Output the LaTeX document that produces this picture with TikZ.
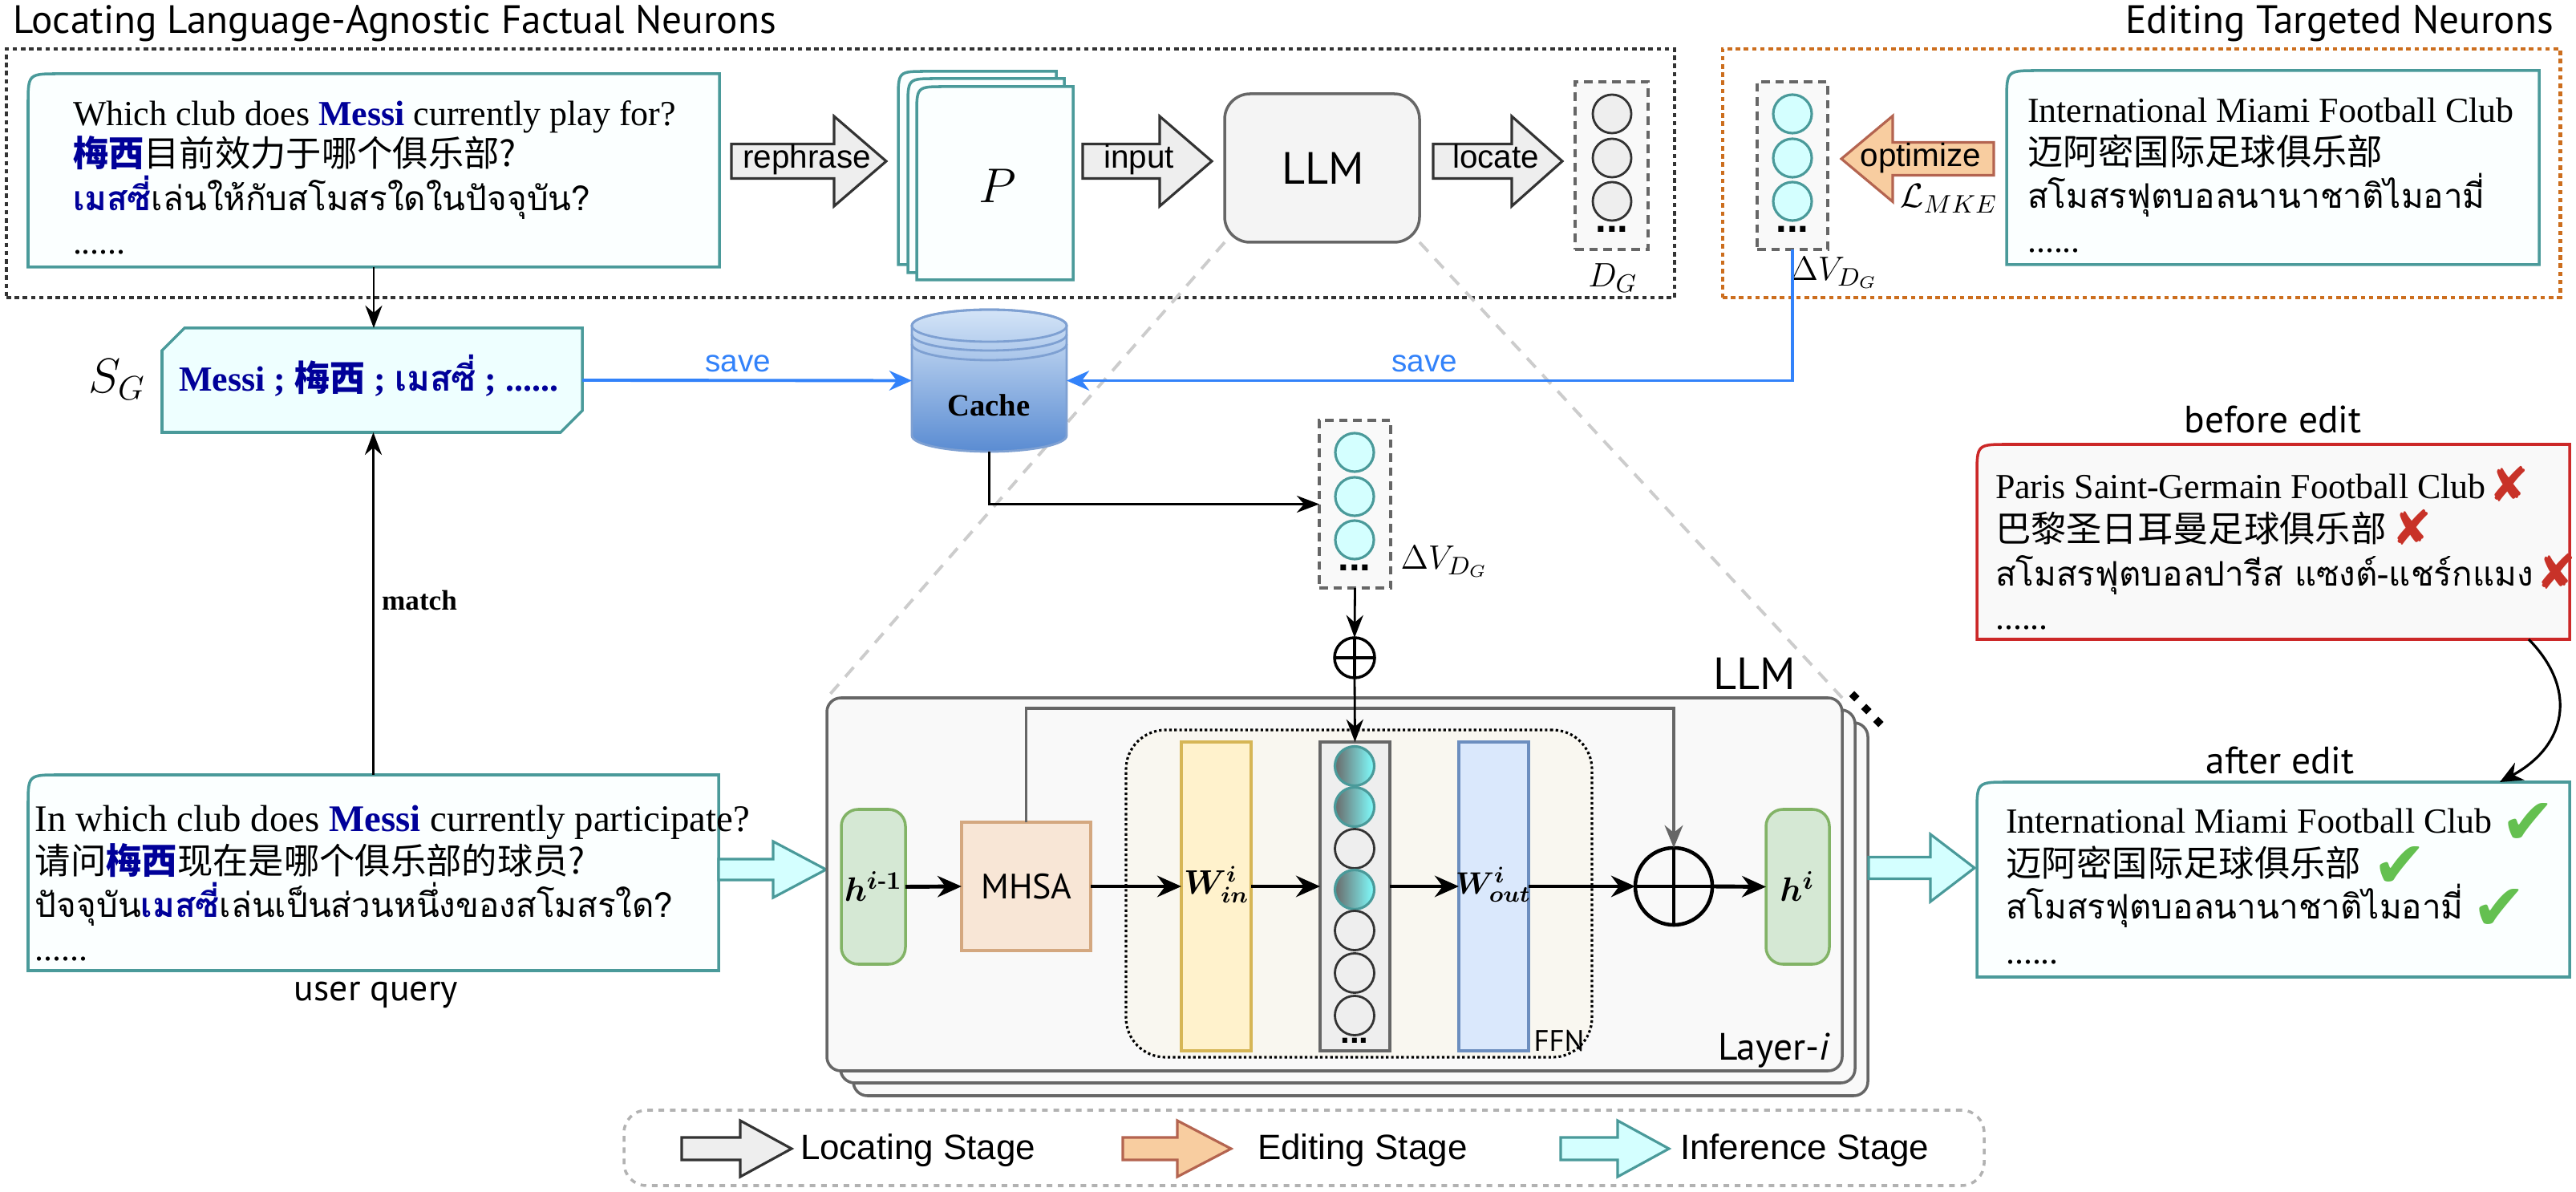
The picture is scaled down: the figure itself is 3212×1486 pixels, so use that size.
\documentclass[tikz,border=0pt]{standalone}
\usepackage{amsmath}
\usepackage{bm}
\usepackage{fontspec}
\setmainfont{Liberation Serif}
\newfontfamily\cjkf{Noto Sans CJK SC}
\newfontfamily\thaif[Script=Thai]{Loma}
\newfontfamily\handf{PT Sans}
\newfontfamily\arialf{Liberation Sans}
\newfontfamily\symf{DejaVu Sans}
\usetikzlibrary{arrows.meta,fit,calc,shapes.geometric}
\newcommand{\fs}[1]{\fontsize{#1}{#1}\selectfont}
\newcommand{\blockarr}[7]{\draw[#1] (#2,{#5-#6}) -- (#3,{#5-#6}) -- (#3,{#5-#7}) -- (#4,#5) -- (#3,{#5+#7}) -- (#3,{#5+#6}) -- (#2,{#5+#6}) -- cycle;}
\newcommand{\tlshape}[3]{\draw[#2] ([yshift=-#3]#1.north west) .. controls (#1.north west) .. ([xshift=#3]#1.north west) -- (#1.north east) -- (#1.south east) -- (#1.south west) -- cycle;}
\definecolor{tealc}{RGB}{74,154,154}
\definecolor{cyanf}{RGB}{212,255,255}
\definecolor{boxfill}{RGB}{251,255,255}
\definecolor{sgfill}{RGB}{238,255,255}
\definecolor{navyq}{RGB}{0,0,153}
\definecolor{orangec}{RGB}{204,110,30}
\definecolor{optfill}{RGB}{248,205,160}
\definecolor{optdraw}{RGB}{180,100,80}
\definecolor{lgray}{RGB}{238,238,238}
\definecolor{darkc}{RGB}{51,51,51}
\definecolor{gray66}{RGB}{102,102,102}
\definecolor{f9}{RGB}{249,249,249}
\definecolor{f5}{RGB}{244,244,244}
\definecolor{redc}{RGB}{204,40,40}
\definecolor{crossc}{RGB}{200,50,40}
\definecolor{checkc}{RGB}{100,192,80}
\definecolor{saveblue}{RGB}{50,130,250}
\definecolor{hfill}{RGB}{213,232,212}
\definecolor{hdraw}{RGB}{130,179,102}
\definecolor{mfill}{RGB}{248,230,214}
\definecolor{mdraw}{RGB}{212,168,128}
\definecolor{winf}{RGB}{255,242,204}
\definecolor{wind}{RGB}{214,182,86}
\definecolor{woutf}{RGB}{218,232,252}
\definecolor{woutd}{RGB}{108,142,191}
\definecolor{ffnc}{RGB}{249,247,240}
\definecolor{cachetop}{RGB}{212,228,247}
\definecolor{cachebot}{RGB}{90,140,210}
\definecolor{cached}{RGB}{126,160,210}
\definecolor{zoomc}{RGB}{204,204,204}
\definecolor{neurdark}{RGB}{105,105,105}
\definecolor{neurcyan}{RGB}{128,255,255}
\begin{document}
\begin{tikzpicture}[x=0.01cm,y=-0.01cm,
 every node/.style={inner sep=0pt,outer sep=0pt},
 region/.style={line width=1.4pt,dash pattern=on 1.6pt off 1.3pt},
 tealb/.style={draw=tealc,line width=1pt,fill=boxfill},
 garr/.style={draw=darkc,fill=lgray,line width=0.9pt},
 oarr/.style={draw=optdraw,fill=optfill,line width=0.9pt},
 carr/.style={draw=tealc,fill=cyanf,line width=0.9pt},
 conn/.style={line width=0.8pt,-{Stealth[length=8pt,width=6pt]}},
 flowarr/.style={line width=1.4pt,-{Stealth[length=8.5pt,width=7.5pt]}},
 savearr/.style={draw=saveblue,line width=1.1pt,-{Stealth[length=8pt,width=7pt]}},
 vecbox/.style={draw=gray66,fill=f9,line width=0.9pt,dash pattern=on 3pt off 2pt},
 gneuron/.style={circle,minimum size=4.8mm,draw=darkc,fill=lgray,line width=0.8pt},
 cneuron/.style={circle,minimum size=4.8mm,draw=tealc,fill=cyanf,line width=0.9pt},
 lneuron/.style={circle,minimum size=4.9mm,draw=darkc,fill=lgray,line width=0.8pt},
 sneuron/.style={circle,minimum size=4.9mm,draw=tealc,left color=neurdark,right color=neurcyan,line width=0.9pt},
 vdots/.style={font=\arialf\bfseries\fs{14}},
 ser/.style={anchor=base west,font=\fs{12.5}},
 cjk/.style={anchor=base west,font=\cjkf\fs{12.6}},
 thai/.style={anchor=base west,font=\thaif\fs{12}},
 hand/.style={font=\handf\fs{14}},
 arl/.style={font=\arialf\fs{11.5}},
 savelbl/.style={font=\arialf\fs{11},text=saveblue},
 legl/.style={anchor=west,font=\arialf\fs{12.5}},
 lay/.style={draw=gray66,fill=f9,line width=1pt,rounded corners=5pt},
 markx/.style={anchor=base west,font=\symf\fs{17},text=crossc,yshift=-1pt},
 markv/.style={anchor=base west,font=\symf\fs{23},text=checkc,yshift=-4pt}
]
\useasboundingbox[fill=white] (0,0) rectangle (3212,1486);

% ---------- region frames and titles
\node[fit={(8,61) (2088,371)},draw=darkc,region] (regL) {};
\node[fit={(2148,61) (3192,371)},draw=orangec,region] (regR) {};
\node[hand,anchor=base west] (t1) at (17,42) {Locating Language-Agnostic Factual Neurons};
\node[hand,anchor=base east] (t2) at (3184,42) {Editing Targeted Neurons};

% ---------- zoom lines
\node[fit={(1527,117) (1770,302)}] (llmpos) {};
\node[fit={(1031,870) (2297,1335)}] (layer1) {};
\draw[zoomc,line width=1.1pt,dash pattern=on 4.5pt off 3.5pt] (llmpos.south west) -- (layer1.north west);
\draw[zoomc,line width=1.1pt,dash pattern=on 4.5pt off 3.5pt] (llmpos.south east) -- (layer1.north east);

% ---------- top-left query box
\node[fit={(35,92) (897,333)}] (qtl) {};
\tlshape{qtl}{tealb}{11pt}
\node[ser] (q1) at (91,157) {Which club does {\bfseries\color{navyq}Messi} currently play for?};
\node[cjk] (q2) at (91,208) {{\bfseries\color{navyq}梅西}目前效力于哪个俱乐部?};
\node[thai] (q3) at (91,263) {{\bfseries\color{navyq}เมสซี่}เล่นให้กับสโมสรใดในปัจจุบัน?};
\node[ser] (q4) at (91,317) {......};

% ---------- rephrase / P / input / LLM / locate
\blockarr{garr}{912}{1040}{1105}{201}{21.5}{56}
\node[arl,anchor=base] (lrep) at (1006,210) {rephrase};
\node[fit={(1120,89) (1317,330)}] (pg3) {};
\node[fit={(1132,98) (1327,340)}] (pg2) {};
\node[fit={(1143,108) (1338,349)}] (pg1) {};
\tlshape{pg3}{tealb}{10pt}
\tlshape{pg2}{tealb}{10pt}
\tlshape{pg1}{tealb}{10pt}
\node[font=\fs{18}] (plbl) at (1244,232) {$P$};
\blockarr{garr}{1350}{1446}{1511}{201}{21.5}{56}
\node[arl,anchor=base] (linp) at (1420,210) {input};
\node[fit={(1527,117) (1770,302)},draw=gray66,fill=f5,line width=1pt,rounded corners=9pt] (llm) {};
\node[font=\handf\fs{16}] (llmt) at (1650,210) {LLM};
\blockarr{garr}{1787}{1885}{1948}{201}{21.5}{56}
\node[arl,anchor=base] (lloc) at (1865,210) {locate};
\node[fit={(1964,102) (2055,311)},vecbox] (dg) {};
\node[gneuron] (dg1) at (2010,142) {};
\node[gneuron] (dg2) at (2010,197) {};
\node[gneuron] (dg3) at (2010,251) {};
\node[vdots] (dgd) at (2010,286) {...};
\node[font=\fs{12.5}] (dgl) at (2011,347) {$D_G$};

% ---------- editing region
\node[fit={(2191,102) (2279,311)},vecbox] (dvt) {};
\node[cneuron] (dvt1) at (2235,142) {};
\node[cneuron] (dvt2) at (2235,197) {};
\node[cneuron] (dvt3) at (2235,251) {};
\node[vdots] (dvtd) at (2235,286) {...};
\node[font=\fs{12.5}] (dvtl) at (2287,340) {$\Delta V_{D_G}$};
\blockarr{oarr}{2486}{2360}{2296}{198}{20.5}{53.5}
\node[arl,anchor=base] (lopt) at (2395,208) {optimize};
\node[font=\fs{13}] (lmke) at (2430,248) {$\mathcal{L}_{MKE}$};
\node[fit={(2502,88) (3166,330)}] (tgt) {};
\tlshape{tgt}{tealb}{11pt}
\node[ser] (g1) at (2528,153) {International Miami Football Club};
\node[cjk] (g2) at (2528,206) {迈阿密国际足球俱乐部};
\node[thai] (g3) at (2528,260) {สโมสรฟุตบอลนานาชาติไมอามี่};
\node[ser] (g4) at (2528,315) {......};

% ---------- S_G
\node[fit={(202,409) (726,539)}] (sg) {};
\draw[draw=tealc,fill=sgfill,line width=1pt] (230,409) -- (726,409) -- (726,512) -- (699,539) -- (202,539) -- (202,437) -- cycle;
\node[anchor=base,font=\fs{12.5}\bfseries\color{navyq}] (sgt) at (460,488) {Messi ; {\cjkf 梅西} ; {\thaif เมสซี่} ; ......};
\node[font=\fs{17}] (sgl) at (146,473) {$S_G$};
\draw[conn] (qtl.south) -- (qtl.south |- sg.north);

% ---------- cache
\node[fit={(1137,386) (1330,563)}] (cache) {};
\draw[draw=cached,line width=0.8pt,top color=cachetop,bottom color=cachebot]
 (1137,406) -- (1137,543) .. controls (1137,554) and (1180.2,563) .. (1233.5,563)
 .. controls (1286.8,563) and (1330,554) .. (1330,543) -- (1330,406)
 .. controls (1330,395) and (1286.8,386) .. (1233.5,386)
 .. controls (1180.2,386) and (1137,395) .. (1137,406) -- cycle;
\draw[draw=cached,line width=0.8pt] (1233.5,406) ellipse [x radius=0.965cm,y radius=0.2cm];
\draw[draw=cached,line width=0.8pt] (1137,417) .. controls (1137,428) and (1180.2,437) .. (1233.5,437) .. controls (1286.8,437) and (1330,428) .. (1330,417);
\draw[draw=cached,line width=0.8pt] (1137,429) .. controls (1137,440) and (1180.2,449) .. (1233.5,449) .. controls (1286.8,449) and (1330,440) .. (1330,429);
\node[font=\fs{11}\bfseries] (cachet) at (1233,505) {Cache};
\draw[savearr] (sg.east) -- (cache.west);
\node[savelbl,anchor=base] (sv1) at (920,464) {save};
\draw[savearr] (dvt.south) |- (cache.east);
\node[savelbl,anchor=base] (sv2) at (1776,464) {save};

% ---------- middle delta V
\node[fit={(1645,524) (1734,733)},vecbox] (dvm) {};
\node[cneuron] (dvm1) at (1689,564) {};
\node[cneuron] (dvm2) at (1689,619) {};
\node[cneuron] (dvm3) at (1689,673) {};
\node[vdots] (dvmd) at (1689,708) {...};
\node[font=\fs{12.5}] (dvml) at (1801,700) {$\Delta V_{D_G}$};
\draw[conn] (cache.south) |- (dvm.west);
\node[circle,draw,line width=1pt,minimum size=5mm] (psm) at (1689,820) {};
\draw[line width=1pt] (psm.west) -- (psm.east);
\draw[conn] (dvm.south) -- (psm.north);

% ---------- user query
\node[fit={(35,966) (896,1210)}] (uq) {};
\tlshape{uq}{tealb}{11pt}
\node[ser,font=\fs{13.3}] (u1) at (44,1036) {In which club does {\bfseries\color{navyq}Messi} currently participate?};
\node[cjk] (u2) at (44,1089) {请问{\bfseries\color{navyq}梅西}现在是哪个俱乐部的球员?};
\node[thai] (u3) at (44,1143) {ปัจจุบัน{\bfseries\color{navyq}เมสซี่}เล่นเป็นส่วนหนึ่งของสโมสรใด?};
\node[ser] (u4) at (44,1197) {......};
\node[hand,font=\handf\fs{13}] (uql) at (469,1240) {user query};
\draw[conn] (uq.north) -- (uq.north |- sg.south);
\node[font=\fs{10}\bfseries] (mt) at (523,748) {match};
\blockarr{carr}{896}{964}{1030}{1084}{13}{35}

% ---------- layer stack
\node[fit={(1064,901) (2329,1366)},lay] (layer3) {};
\node[fit={(1048,885) (2313,1350)},lay] (layer2) {};
\node[fit={(1031,870) (2297,1335)},lay] (layerA) {};
\node[font=\handf\fs{16}] (llm2) at (2188,840) {LLM};
\node[diamond,fill,minimum size=1.3mm] (dd1) at (2312,868) {};
\node[diamond,fill,minimum size=1.3mm] (dd2) at (2327,884) {};
\node[diamond,fill,minimum size=1.3mm] (dd3) at (2342,900) {};
\node[font=\handf\fs{13.5}] (layl) at (2212,1310) {Layer-\textit{i}};
\node[fit={(1404,910) (1985,1318)},draw=black,fill=ffnc,line width=0.9pt,dash pattern=on 0.9pt off 0.9pt,rounded corners=14pt] (ffn) {};
\node[font=\handf\fs{10.5}] (ffnl) at (1944,1298) {FFN};
\node[fit={(1049,1009) (1129,1202)},draw=hdraw,fill=hfill,line width=1pt,rounded corners=6pt] (hp) {};
\node[font=\fs{13}] (hpl) at (1089,1105) {$\bm{h}^{\bm{i}\text{\bfseries -}\bm{1}}$};
\node[fit={(1199,1025) (1360,1185)},draw=mdraw,fill=mfill,line width=1pt] (mhsa) {};
\node[font=\handf\fs{12.5}] (mhsal) at (1280,1105) {MHSA};
\node[fit={(1473,925) (1560,1310)},draw=wind,fill=winf,line width=1pt] (win) {};
\node[font=\fs{11.5}] (winl) at (1517,1103) {$\bm{W}^{\bm{i}}_{\bm{in}}$};
\node[fit={(1646,925) (1733,1310)},draw=gray66,fill=lgray,line width=1pt] (ncol) {};
\node[sneuron] (n1) at (1689,955) {};
\node[sneuron] (n2) at (1689,1006) {};
\node[lneuron] (n3) at (1689,1058) {};
\node[sneuron] (n4) at (1689,1109) {};
\node[lneuron] (n5) at (1689,1160) {};
\node[lneuron] (n6) at (1689,1213) {};
\node[lneuron] (n7) at (1689,1266) {};
\node[vdots,font=\arialf\bfseries\fs{12}] (nd) at (1689,1297) {...};
\node[fit={(1819,925) (1906,1310)},draw=woutd,fill=woutf,line width=1pt] (wout) {};
\node[font=\fs{11}] (woutl) at (1862,1103) {$\bm{W}^{\bm{i}}_{\bm{out}}$};
\node[circle,draw,line width=1.3pt,minimum size=9.6mm] (pbig) at (2087,1105) {};
\draw[line width=1.3pt] (pbig.north) -- (pbig.south);
\node[fit={(2202,1009) (2281,1202)},draw=hdraw,fill=hfill,line width=1pt,rounded corners=6pt] (hn) {};
\node[font=\fs{13}] (hnl) at (2241,1105) {$\bm{h}^{\bm{i}}$};
\coordinate (flow) at (mhsa.east);
\coordinate (skipy) at (0,883);
\draw[flowarr] (hp.east) -- (mhsa.west);
\draw[flowarr] (mhsa.east) -- (win.west |- flow);
\draw[flowarr] (win.east |- flow) -- (ncol.west |- flow);
\draw[flowarr] (ncol.east |- flow) -- (wout.west |- flow);
\draw[flowarr] (wout.east |- flow) -- (pbig.west);
\draw[line width=1.3pt] (pbig.west) -- (pbig.east);
\draw[flowarr] (pbig.east) -- (hn.west);
\draw[draw=gray66,line width=1pt,-{Stealth[length=8pt,width=6.5pt]}] (mhsa.north) |- (skipy -| pbig.north) -- (pbig.north);
\draw[conn] (psm.south) -- (ncol.north);
\draw[line width=1pt] (psm.north) -- (psm.south);
\blockarr{carr}{2330}{2407}{2462}{1082}{13.5}{42}

% ---------- before / after
\node[hand,font=\handf\fs{13.5}] (bel) at (2834,523) {before edit};
\node[fit={(2465,554) (3204,797)}] (bef) {};
\tlshape{bef}{draw=redc,fill=f9,line width=1pt}{11pt}
\node[ser] (b1) at (2488,622) {Paris Saint-Germain Football Club};
\node[cjk] (b2) at (2488,676) {巴黎圣日耳曼足球俱乐部};
\node[thai] (b3) at (2488,731) {สโมสรฟุตบอลปารีส แซงต์-แชร์กแมง};
\node[ser] (b4) at (2488,785) {......};
\node[markx] (x1) at ([xshift=1pt]b1.base east) {✘};
\node[markx] (x2) at ([xshift=2pt]b2.base east) {✘};
\node[markx] (x3) at ([xshift=1pt]b3.base east) {✘};
\node[hand,font=\handf\fs{13.5}] (afl) at (2843,948) {after edit};
\node[fit={(2465,975) (3204,1218)}] (aft) {};
\tlshape{aft}{tealb}{11pt}
\node[ser] (a1) at (2501,1038) {International Miami Football Club};
\node[cjk] (a2) at (2501,1092) {迈阿密国际足球俱乐部};
\node[thai] (a3) at (2501,1145) {สโมสรฟุตบอลนานาชาติไมอามี่};
\node[ser] (a4) at (2501,1201) {......};
\node[markv] (v1) at ([xshift=3pt]a1.base east) {✔};
\node[markv] (v2) at ([xshift=4pt]a2.base east) {✔};
\node[markv] (v3) at ([xshift=3pt]a3.base east) {✔};
\coordinate (cs) at ([xshift=-0.51cm]bef.south east);
\coordinate (ce) at ([xshift=-0.87cm]aft.north east);
\draw[line width=0.9pt,-{Stealth[length=8pt,width=7pt]}] (cs) .. controls (3215,860) and (3200,930) .. (ce);

% ---------- legend
\node[fit={(778,1384) (2474,1478)},draw=gray!60,line width=1pt,dash pattern=on 2pt off 2pt,rounded corners=8pt] (leg) {};
\blockarr{garr}{850}{923}{987}{1432}{14}{35}
\node[legl] (lg1) at (998,1434) {Locating Stage};
\blockarr{oarr}{1400}{1468}{1535}{1432}{14}{35}
\node[legl] (lg2) at (1568,1434) {Editing Stage};
\blockarr{carr}{1946}{2017}{2081}{1432}{14}{35}
\node[legl] (lg3) at (2095,1434) {Inference Stage};
\end{tikzpicture}
\end{document}
